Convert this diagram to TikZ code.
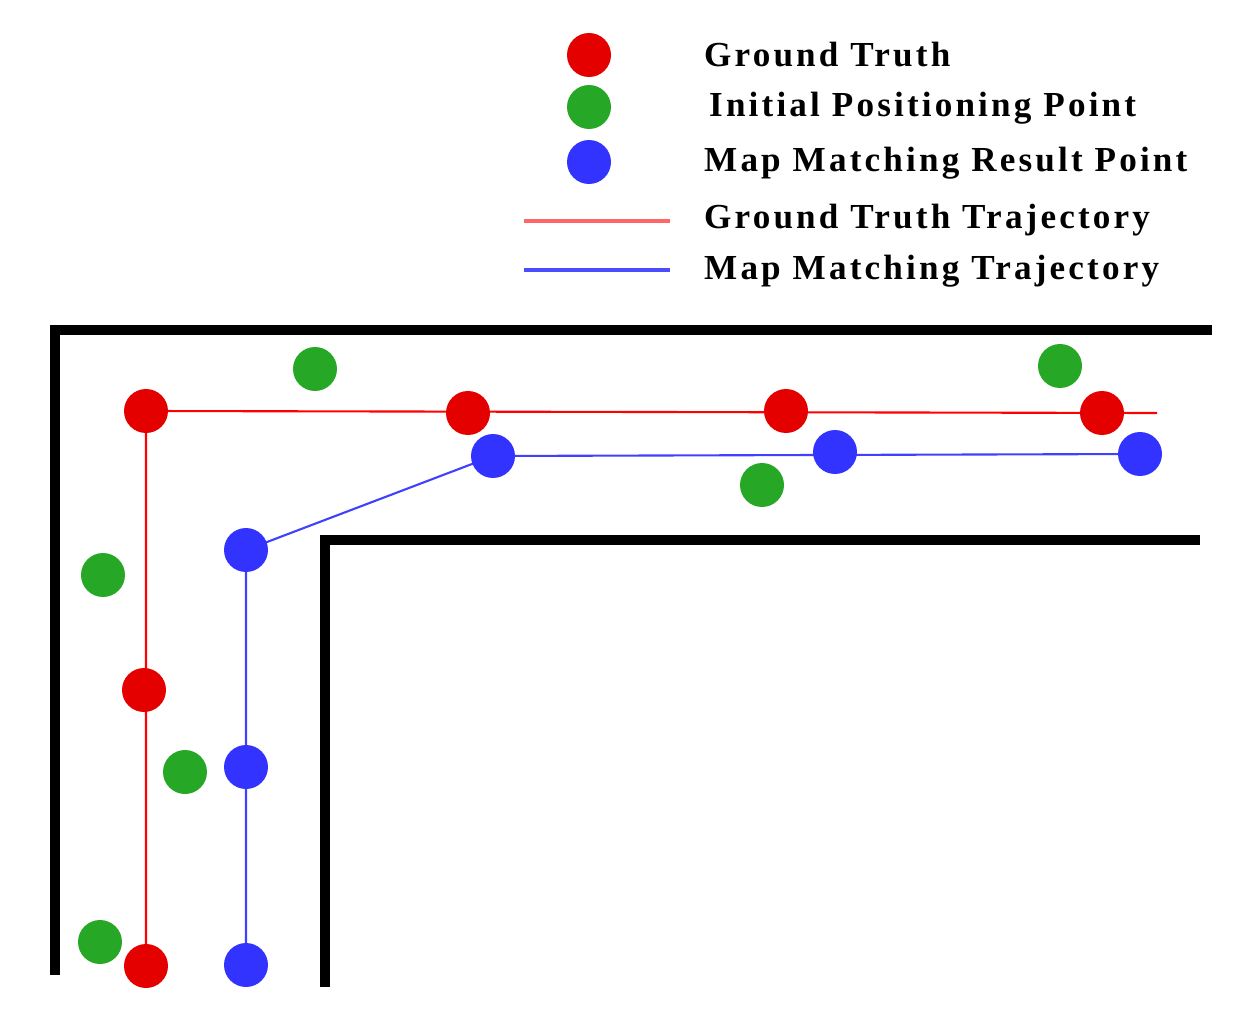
\documentclass[tikz,border=0pt]{standalone}
\usepackage{fontspec}
\setmainfont{Liberation Serif}
\newfontfamily\lblfont{Liberation Serif}[LetterSpace=9]
\begin{document}
\begin{tikzpicture}[x=0.02cm,y=-0.02cm,
 dot/.style={circle,inner sep=0pt,minimum size=0.88cm},
 gt/.style={dot,fill=red!90!black},
 ip/.style={dot,fill=green!60!black!85!white},
 mm/.style={dot,fill=blue!80!white},
 wall/.style={line width=0.2cm,black},
 lbl/.style={anchor=west,font=\lblfont\fontsize{20}{24}\selectfont\bfseries}]
\useasboundingbox (0,0) rectangle (1244,1017);
\draw[wall] (55,975) -- (55,330) -- (1212,330);
\draw[wall] (325,987) -- (325,540) -- (1200,540);
\coordinate (rend) at (1157,413);
\coordinate (pr1) at (146,411); \coordinate (pr6) at (146,966);
\coordinate (pb1) at (493,456); \coordinate (pb3) at (1140,454);
\coordinate (pb4) at (246,550); \coordinate (pb6) at (246,965);
\draw[red,line width=1.2pt] (pr6) -- (pr1) -- (rend);
\draw[blue!75!white,line width=1.2pt] (pb6) -- (pb4) -- (pb1) -- (pb3);
\node[gt] (r1) at (pr1) {};
\node[gt] (r2) at (468,413) {};
\node[gt] (r3) at (786,411) {};
\node[gt] (r4) at (1102,413) {};
\node[gt] (r5) at (144,690) {};
\node[gt] (r6) at (pr6) {};
\node[mm] (b1) at (pb1) {};
\node[mm] (b2) at (835,452) {};
\node[mm] (b3) at (pb3) {};
\node[mm] (b4) at (pb4) {};
\node[mm] (b5) at (246,767) {};
\node[mm] (b6) at (pb6) {};
\node[ip] (g1) at (315,369) {};
\node[ip] (g2) at (1060,366) {};
\node[ip] (g3) at (762,485) {};
\node[ip] (g4) at (103,575) {};
\node[ip] (g5) at (185,772) {};
\node[ip] (g6) at (100,942) {};
% legend
\node[gt] (lg1) at (589,55) {};
\node[ip] (lg2) at (589,107) {};
\node[mm] (lg3) at (589,162) {};
\coordinate (la1) at (524,221); \coordinate (la2) at (670,221);
\coordinate (lb1) at (524,270); \coordinate (lb2) at (670,270);
\draw[red!60!white,line width=1.8pt] (la1) -- (la2);
\draw[blue!70!white,line width=1.8pt] (lb1) -- (lb2);
\node[lbl] (t1) at (698,55) {Ground Truth};
\node[lbl] (t2) at (703,108) {Initial Positioning Point};
\node[lbl] (t3) at (698,163) {Map Matching Result Point};
\node[lbl] (t4) at (698,220) {Ground Truth Trajectory};
\node[lbl] (t5) at (698,271) {Map Matching Trajectory};
\end{tikzpicture}
\end{document}
